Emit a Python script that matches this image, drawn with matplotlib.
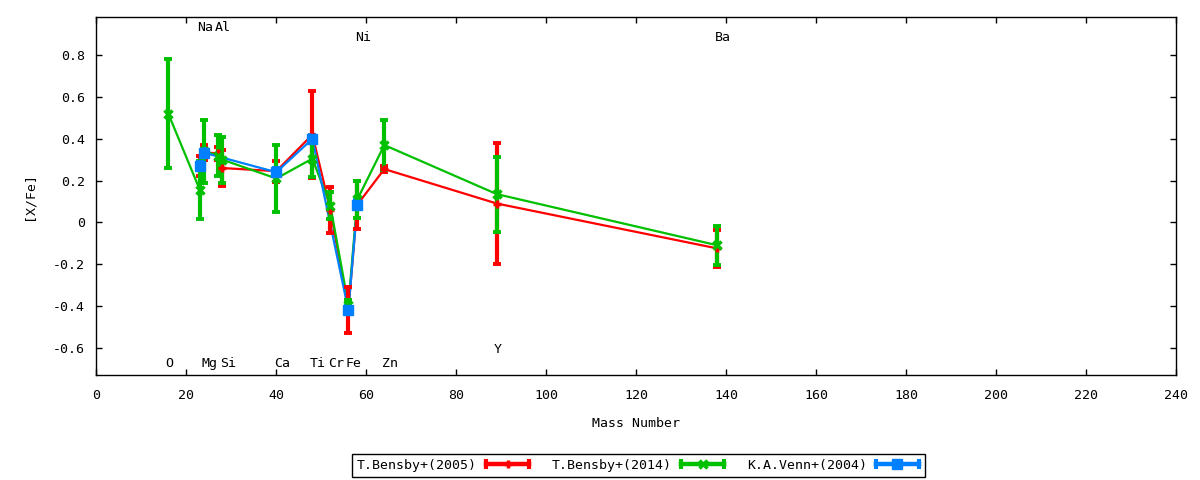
import numpy as np
import matplotlib
matplotlib.use("Agg")
import matplotlib.pyplot as plt
from matplotlib.lines import Line2D
from matplotlib.legend_handler import HandlerLine2D, HandlerTuple
from matplotlib.ticker import FuncFormatter

plt.rcParams['font.family'] = ['DejaVu Sans Mono']
plt.rcParams['font.size'] = 9.5

# ---- data ----
# T.Bensby+(2005)
b05_mass = [23, 24, 27, 28, 40, 48, 52, 56, 58, 64, 89, 138]
b05_xfe = [0.27, 0.335, 0.33, 0.26, 0.245, 0.42, 0.06, -0.42, 0.085, 0.255, 0.09, -0.125]
b05_err = [0.05, 0.035, 0.03, 0.085, 0.05, 0.21, 0.11, 0.11, 0.115, 0.015, 0.29, 0.09]

# T.Bensby+(2014)
b14_mass = [16, 23, 24, 27, 28, 40, 48, 52, 56, 58, 64, 89, 138]
b14_xfe = [0.52, 0.155, 0.34, 0.32, 0.30, 0.21, 0.305, 0.08, -0.395, 0.11, 0.37, 0.135, -0.11]
b14_err = [0.26, 0.14, 0.15, 0.10, 0.11, 0.16, 0.088, 0.065, 0.025, 0.088, 0.12, 0.18, 0.092]

# K.A.Venn+(2004)
v04_mass = [23, 24, 40, 48, 56, 58]
v04_xfe = [0.27, 0.333, 0.24, 0.40, -0.42, 0.085]
v04_err = [0.02, 0.02, 0.02, 0.02, 0.02, 0.02]

# element labels (name, mass, y of label)
elem_names = ['O', 'Na', 'Mg', 'Al', 'Si', 'Ca', 'Ti', 'Cr', 'Fe', 'Ni', 'Zn', 'Y', 'Ba']
elem_mass = [16, 23, 24, 27, 28, 40, 48, 52, 56, 58, 64, 89, 138]
elem_y = [-0.675, 0.934, -0.675, 0.934, -0.675, -0.675, -0.675, -0.675, -0.675,
          0.886, -0.675, -0.607, 0.886]

series = [
    ("T.Bensby+(2005)", b05_mass, b05_xfe, b05_err, '#ff0000', '+'),
    ("T.Bensby+(2014)", b14_mass, b14_xfe, b14_err, '#00c000', 'x'),
    ("K.A.Venn+(2004)", v04_mass, v04_xfe, v04_err, '#0080ff', 's'),
]

fig = plt.figure(figsize=(12, 4.8), dpi=100)
ax = fig.add_axes([0.0803, 0.2188, 0.9, 0.7452])

handles = []
handler_map = {tuple: HandlerTuple(ndivide=1)}
for label, m, v, e, col, mk in series:
    ms = 7.5 if mk == 's' else 6
    mew = 1 if mk == 's' else 2.5
    ax.plot(m, v, color=col, lw=1.6, zorder=2)
    # capsize is half the cap length in matplotlib
    ax.errorbar(m, v, yerr=e, fmt='none', ecolor=col, elinewidth=3,
                capsize=3, capthick=2.8, zorder=3)
    ax.plot(m, v, ls='none', marker=mk, color=col, ms=ms, mew=mew, zorder=4)

    body = Line2D([], [], color=col, lw=3.2, marker=mk, ms=ms, mew=mew)
    caps = Line2D([], [], color=col, lw=0, marker='|', ms=7, mew=3)
    handler_map[caps] = HandlerLine2D(numpoints=2, marker_pad=0)
    handles.append((body, caps))

for name, m, y in zip(elem_names, elem_mass, elem_y):
    ax.text(m - 0.6, y, name, ha='left', va='center')

ax.set_xlim(0, 240)
ax.set_ylim(-0.731, 0.982)
ax.set_xticks(np.arange(0, 241, 20))
ax.set_yticks([-0.6, -0.4, -0.2, 0, 0.2, 0.4, 0.6, 0.8])
ax.yaxis.set_major_formatter(FuncFormatter(lambda v, p: f'{round(v, 2) + 0:g}'))
ax.tick_params(direction='in', length=4, width=1, top=True, right=True, pad=8)
ax.tick_params(axis='x', pad=10)
for sp in ax.spines.values():
    sp.set_linewidth(1)

ax.set_xlabel('Mass Number', labelpad=11)
ax.set_ylabel('[X/Fe]', labelpad=13)

leg = fig.legend(handles, [s[0] for s in series], handler_map=handler_map,
                 loc='center', bbox_to_anchor=(0.5317, 0.0302), ncol=3,
                 markerfirst=False, fancybox=False, framealpha=1,
                 edgecolor='black', handlelength=3.3, handletextpad=0.68,
                 columnspacing=1.7, borderpad=0.4, borderaxespad=0)
leg.get_frame().set_linewidth(1)

fig.savefig('out.png', dpi=100)
